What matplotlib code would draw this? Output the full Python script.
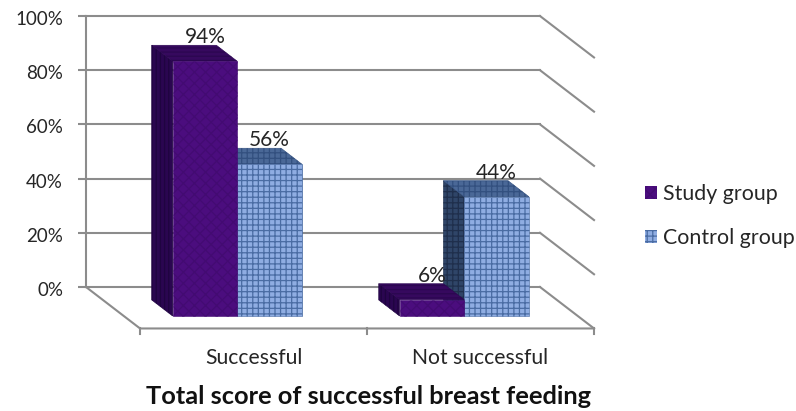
#!/usr/bin/env python3

import matplotlib
matplotlib.use("Agg")
import matplotlib.pyplot as plt
from matplotlib.patches import Patch, Polygon
from matplotlib.ticker import PercentFormatter
from matplotlib.transforms import ScaledTranslation

plt.rcParams['font.family'] = ['Lato', 'DejaVu Sans']
plt.rcParams['hatch.linewidth'] = 0.9

categories = ['Successful', 'Not successful']
groups = ['Study group', 'Control group']
study_values = [94, 6]
control_values = [56, 44]
y_ticks = [0, 20, 40, 60, 80, 100]

GRID = '#8c8c8c'
TEXT = '#262626'

# oblique depth of the floor, in data units (one category = 1 in x)
DEPTH_X = 0.238
DEPTH_Y = 15.3
BAR_W = 0.285
BAR_FRONT = 0.70
BAR_BACK = 0.313

W, H = 796, 411
fig = plt.figure(figsize=(W / 100, H / 100), dpi=100, facecolor='white')
ax = fig.add_axes([86 / W, (H - 287) / H, 454 / W, 271 / H])
ax.set_xlim(0, 2)
ax.set_ylim(0, 100)
ax.patch.set_visible(False)


def proj(x, v, d):
    return (x + d * DEPTH_X, v - d * DEPTH_Y)


def face(points, color, edge, hatch, z):
    ax.add_patch(Polygon(points, closed=True, facecolor=color, edgecolor=edge,
                         hatch=hatch, lw=0.4, clip_on=False, zorder=z))


def bar3d(x0, value, colors, edge, hatch, z):
    x1 = x0 + BAR_W
    # left side
    face([proj(x0, 0, BAR_BACK), proj(x0, value, BAR_BACK),
          proj(x0, value, BAR_FRONT), proj(x0, 0, BAR_FRONT)],
         colors[0], edge[0], hatch[0], z)
    # top
    face([proj(x0, value, BAR_BACK), proj(x1, value, BAR_BACK),
          proj(x1, value, BAR_FRONT), proj(x0, value, BAR_FRONT)],
         colors[1], edge[1], hatch[1], z)
    # front
    face([proj(x0, 0, BAR_FRONT), proj(x0, value, BAR_FRONT),
          proj(x1, value, BAR_FRONT), proj(x1, 0, BAR_FRONT)],
         colors[2], edge[2], hatch[2], z)
    lx = proj(x0 + BAR_W / 2, value, BAR_FRONT)[0]
    ly = proj(x0, value, BAR_BACK)[1]
    ax.text(lx, ly + 3, '%d%%' % value, ha='center', va='center',
            fontsize=15, color=TEXT, clip_on=False, zorder=10)


# back wall grid lines and their run down the side wall
ax.set_yticks(y_ticks)
ax.yaxis.set_major_formatter(PercentFormatter(decimals=0))
ax.set_xticks([])
ax.tick_params(axis='y', length=5.5, width=1.5, color=GRID, pad=11, labelsize=13.5,
               labelcolor=TEXT)
ax.grid(axis='y', color=GRID, lw=1.5, clip_on=False, zorder=1)
ax.set_axisbelow(True)
for name in ['top', 'right', 'bottom']:
    ax.spines[name].set_visible(False)
ax.spines['left'].set_color(GRID)
ax.spines['left'].set_linewidth(1.5)

# labels sit a little below their ticks in the original
nudge = ScaledTranslation(0, -2 / 100, fig.dpi_scale_trans)
for lab in ax.get_yticklabels():
    lab.set_transform(lab.get_transform() + nudge)

for v in y_ticks:
    a = proj(2, v, 0)
    b = proj(2, v, 1)
    ax.plot([a[0], b[0]], [a[1], b[1]], color=GRID, lw=1.5, clip_on=False, zorder=1)

# floor
a = proj(0, 0, 0)
b = proj(0, 0, 1)
c = proj(2, 0, 1)
ax.plot([a[0], b[0], c[0]], [a[1], b[1], c[1]], color=GRID, lw=1.5, clip_on=False, zorder=1)
for i in range(3):
    t = proj(i, 0, 1)
    ax.plot([t[0], t[0]], [t[1], t[1] - 2.2], color=GRID, lw=1.5, clip_on=False, zorder=1)

study_colors = ['#2a0650', '#36095e', '#4b0d7e']
study_edges = ['#1f0440', '#2b0750', '#430b72']
study_hatch = ['||||', '----', 'xxx']
control_colors = ['#2f4568', '#4a6897', '#8fadE2']
control_edges = ['#1f2f4c', '#33507f', '#4a6ca3']
control_hatch = ['+++', '+++', '+++']

offset = (1 - 2 * BAR_W) / 2
for i, cat in enumerate(categories):
    # control first: the taller study bar hides its back corner
    bar3d(i + offset + BAR_W, control_values[i], control_colors, control_edges, control_hatch, 3 + i)
    bar3d(i + offset, study_values[i], study_colors, study_edges, study_hatch, 3 + i)
    cx, cy = proj(i + 0.5, 0, 1)
    ax.text(cx, cy - 11, cat, ha='center', va='center', fontsize=15.2,
            color=TEXT, clip_on=False)

handles = [Patch(facecolor=study_colors[2], edgecolor=study_edges[2], hatch=study_hatch[2], lw=0),
           Patch(facecolor=control_colors[2], edgecolor=control_edges[2], hatch='+++', lw=0)]
fig.legend(handles, groups, loc='center left', bbox_to_anchor=(626 / W, 1 - 216 / H),
           frameon=False, fontsize=15.4, labelcolor=TEXT, handlelength=0.55, handleheight=0.55,
           handletextpad=0.28, labelspacing=1.12)

fig.text(368 / W, 1 - 396 / H, 'Total score of successful breast feeding', ha='center',
         va='center', fontsize=18.3, fontweight='bold', color='#111111')

fig.savefig('out.png', dpi=100, facecolor='white')
